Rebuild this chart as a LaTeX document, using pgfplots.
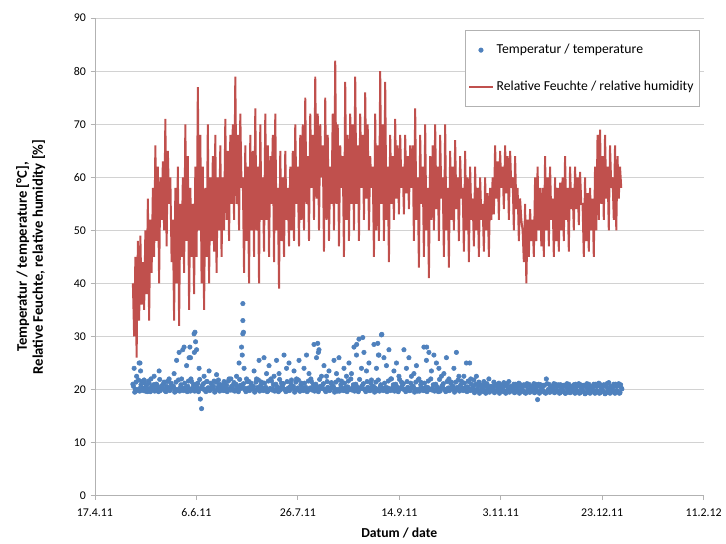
\documentclass[border=0pt]{standalone}
\usepackage{pgfplots}
\pgfplotsset{compat=1.18}
\usepackage{pgfplotstable}
\usepackage{fontspec}
\setmainfont{Carlito}
\definecolor{hum}{RGB}{192,80,77}
\definecolor{tmp}{RGB}{79,129,189}

% relative humidity, one value every 0.6156 days from day 18.7 (day 0 = 17.4.11)
\pgfplotstableread[header=false,row sep=\\]{
40\\30\\45\\26\\48\\33\\49\\36\\
44\\35\\50\\38\\56\\33\\52\\42\\
58\\45\\66\\48\\62\\40\\60\\52\\
63\\50\\71\\47\\65\\55\\60\\44\\
52\\33\\58\\40\\62\\32\\55\\45\\
60\\42\\70\\48\\64\\35\\58\\45\\
55\\38\\62\\45\\77\\50\\68\\40\\
62\\35\\58\\45\\70\\40\\60\\48\\
64\\46\\68\\42\\60\\50\\66\\45\\
60\\50\\71\\52\\65\\48\\68\\55\\
70\\52\\79\\55\\68\\50\\72\\58\\
60\\42\\66\\48\\62\\40\\68\\50\\
65\\45\\73\\50\\62\\40\\70\\52\\
60\\46\\72\\52\\66\\45\\64\\55\\
68\\44\\72\\50\\58\\39\\65\\48\\
60\\45\\65\\52\\58\\47\\62\\50\\
65\\48\\70\\55\\62\\47\\68\\52\\
70\\50\\75\\55\\64\\48\\72\\58\\
68\\52\\79\\56\\72\\50\\70\\60\\
66\\46\\75\\52\\68\\48\\62\\55\\
72\\50\\82\\55\\70\\47\\66\\58\\
64\\45\\78\\52\\68\\48\\72\\55\\
70\\50\\79\\55\\66\\48\\72\\58\\
68\\52\\76\\56\\70\\50\\64\\58\\
62\\45\\72\\50\\66\\48\\80\\55\\
70\\48\\78\\52\\62\\44\\68\\55\\
64\\52\\71\\56\\66\\53\\68\\58\\
62\\53\\68\\57\\64\\54\\66\\58\\
66\\48\\73\\52\\60\\43\\68\\55\\
62\\45\\70\\50\\58\\41\\64\\52\\
66\\50\\70\\54\\62\\48\\68\\56\\
60\\45\\70\\50\\58\\43\\65\\52\\
62\\50\\67\\54\\60\\48\\64\\56\\
58\\46\\65\\50\\60\\44\\62\\52\\
56\\47\\62\\50\\58\\45\\60\\52\\
55\\46\\60\\50\\57\\45\\58\\52\\
60\\53\\66\\56\\63\\52\\65\\58\\
62\\54\\66\\57\\64\\52\\65\\58\\
60\\50\\64\\54\\58\\48\\56\\52\\
50\\44\\55\\40\\52\\45\\54\\48\\
52\\45\\60\\48\\62\\50\\58\\47\\
58\\45\\64\\50\\60\\47\\62\\52\\
56\\45\\60\\48\\58\\46\\59\\50\\
60\\48\\64\\52\\58\\46\\62\\54\\
58\\50\\62\\54\\60\\51\\61\\55\\
55\\45\\60\\48\\57\\46\\58\\50\\
56\\45\\62\\50\\68\\52\\69\\55\\
64\\52\\68\\56\\62\\50\\66\\58\\
60\\52\\66\\50\\64\\56\\62\\58\\
}\humtable

% temperature, same spacing
\pgfplotstableread[header=false,row sep=\\]{
21\\24\\20\\22.5\\19.8\\25\\20.3\\21.5\\
20.2\\21.8\\19.7\\20.8\\20.1\\21.2\\19.6\\20.5\\
20.4\\22.5\\19.9\\21.0\\20.2\\23.5\\19.8\\20.7\\
20.1\\21.4\\19.7\\20.6\\20.3\\22.0\\19.9\\20.8\\
20.5\\23.0\\20.0\\25.5\\19.8\\27.0\\20.4\\22.0\\
20.2\\28.0\\19.9\\24.5\\20.6\\26.0\\19.7\\21.5\\
20.3\\30.5\\20.0\\27.5\\21.2\\24.0\\18.2\\16.4\\
20.1\\22.5\\19.8\\21.5\\20.3\\23.5\\19.9\\21.0\\
20.2\\21.6\\19.7\\22.8\\20.4\\21.0\\19.9\\20.7\\
20.3\\21.5\\19.8\\20.8\\20.1\\22.0\\19.9\\20.6\\
20.2\\21.3\\19.8\\22.5\\20.3\\25.0\\20.8\\28.0\\
30.5\\24.0\\20.2\\22.0\\19.9\\21.5\\20.3\\20.8\\
20.1\\23.5\\19.8\\22.0\\20.4\\25.5\\19.9\\21.4\\
20.3\\26.0\\20.0\\23.0\\19.7\\24.5\\20.2\\21.6\\
20.1\\22.5\\19.8\\25.5\\20.4\\23.0\\19.9\\21.2\\
20.3\\26.5\\20.0\\24.0\\19.8\\25.0\\20.5\\21.8\\
20.2\\23.5\\19.9\\22.0\\20.3\\25.5\\19.7\\21.2\\
20.4\\24.0\\20.0\\26.5\\19.8\\23.0\\20.3\\21.5\\
20.1\\28.5\\20.3\\26.0\\19.9\\27.5\\20.6\\22.5\\
20.2\\24.5\\19.8\\22.5\\20.4\\23.5\\19.9\\21.3\\
20.3\\25.5\\20.0\\23.0\\19.7\\26.0\\20.2\\21.6\\
20.1\\24.0\\19.8\\22.5\\20.5\\25.0\\20.0\\23.0\\
20.4\\28.0\\20.1\\26.5\\19.8\\29.5\\20.3\\24.0\\
20.2\\27.0\\19.9\\23.5\\20.4\\25.0\\19.8\\21.8\\
20.1\\28.5\\20.3\\24.0\\19.8\\26.5\\20.5\\30.3\\
20.2\\26.0\\19.9\\24.5\\20.3\\27.5\\19.8\\22.0\\
20.4\\23.5\\20.0\\25.0\\19.7\\22.5\\20.2\\21.4\\
20.1\\27.5\\19.9\\24.0\\20.4\\26.0\\19.8\\22.5\\
20.3\\23.0\\20.0\\24.5\\19.7\\22.0\\20.2\\21.3\\
20.1\\28.0\\19.8\\25.5\\20.4\\27.0\\20.0\\23.5\\
20.3\\26.5\\19.9\\25.0\\20.2\\24.0\\19.7\\22.5\\
20.4\\23.0\\20.0\\26.0\\19.8\\22.0\\20.3\\21.4\\
20.1\\24.0\\19.8\\27.0\\20.4\\22.5\\19.9\\21.6\\
20.2\\22.5\\19.9\\25.0\\20.5\\21.5\\19.8\\21.0\\
20.3\\21.8\\19.9\\22.5\\20.1\\21.4\\19.7\\20.8\\
20.2\\21.5\\19.8\\20.9\\20.4\\22.0\\19.9\\20.6\\
20.1\\21.4\\19.7\\20.8\\20.3\\21.2\\19.8\\20.5\\
20.2\\21.3\\19.6\\20.7\\20.0\\21.5\\19.7\\20.4\\
20.0\\21.0\\19.5\\20.5\\19.9\\21.2\\19.6\\20.3\\
19.9\\20.9\\19.4\\20.6\\19.8\\21.0\\19.5\\20.2\\
20.0\\21.1\\19.5\\20.4\\18.1\\21.0\\19.6\\20.3\\
19.9\\20.8\\19.4\\22.0\\19.7\\21.0\\19.5\\20.2\\
20.0\\21.1\\19.5\\20.5\\19.8\\20.9\\19.4\\20.3\\
19.8\\20.8\\19.3\\20.4\\19.7\\21.0\\19.4\\20.1\\
19.9\\20.9\\19.3\\20.5\\19.6\\21.1\\19.4\\20.2\\
19.8\\20.8\\19.2\\20.4\\19.7\\21.0\\19.3\\20.1\\
19.9\\21.0\\19.3\\20.6\\19.6\\21.2\\19.4\\20.2\\
19.8\\20.9\\19.2\\20.5\\19.7\\21.3\\19.3\\20.1\\
19.9\\21.0\\19.3\\20.6\\19.6\\21.1\\19.4\\20.3\\
}\tmptable

% temperature, readings in between (offset by half a step)
\pgfplotstableread[header=false,row sep=\\]{
20.6\\19.5\\21.4\\20.0\\21.8\\19.7\\20.9\\20.3\\
19.8\\21.2\\20.4\\19.6\\21.6\\20.1\\22.0\\19.9\\
20.9\\19.7\\21.0\\20.5\\19.6\\21.9\\20.2\\20.7\\
21.1\\20.0\\19.6\\21.5\\20.3\\19.8\\21.2\\20.6\\
20.6\\19.5\\21.4\\20.0\\21.8\\19.7\\20.9\\20.3\\
19.8\\21.2\\20.4\\19.6\\21.6\\20.1\\22.0\\19.9\\
20.9\\19.7\\21.0\\20.5\\19.6\\21.9\\20.2\\20.7\\
21.1\\20.0\\19.6\\21.5\\20.3\\19.8\\21.2\\20.6\\
20.6\\19.5\\21.4\\20.0\\21.8\\19.7\\20.9\\20.3\\
19.8\\21.2\\20.4\\19.6\\21.6\\20.1\\22.0\\19.9\\
20.9\\19.7\\21.0\\20.5\\19.6\\21.9\\20.2\\20.7\\
21.1\\20.0\\19.6\\21.5\\20.3\\19.8\\21.2\\20.6\\
20.6\\19.5\\21.4\\20.0\\21.8\\19.7\\20.9\\20.3\\
19.8\\21.2\\20.4\\19.6\\21.6\\20.1\\22.0\\19.9\\
20.9\\19.7\\21.0\\20.5\\19.6\\21.9\\20.2\\20.7\\
21.1\\20.0\\19.6\\21.5\\20.3\\19.8\\21.2\\20.6\\
20.6\\19.5\\21.4\\20.0\\21.8\\19.7\\20.9\\20.3\\
19.8\\21.2\\20.4\\19.6\\21.6\\20.1\\22.0\\19.9\\
20.9\\19.7\\21.0\\20.5\\19.6\\21.9\\20.2\\20.7\\
21.1\\20.0\\19.6\\21.5\\20.3\\19.8\\21.2\\20.6\\
20.6\\19.5\\21.4\\20.0\\21.8\\19.7\\20.9\\20.3\\
19.8\\21.2\\20.4\\19.6\\21.6\\20.1\\22.0\\19.9\\
20.9\\19.7\\21.0\\20.5\\19.6\\21.9\\20.2\\20.7\\
21.1\\20.0\\19.6\\21.5\\20.3\\19.8\\21.2\\20.6\\
20.6\\19.5\\21.4\\20.0\\21.8\\19.7\\20.9\\20.3\\
19.8\\21.2\\20.4\\19.6\\21.6\\20.1\\22.0\\19.9\\
20.9\\19.7\\21.0\\20.5\\19.6\\21.9\\20.2\\20.7\\
21.1\\20.0\\19.6\\21.5\\20.3\\19.8\\21.2\\20.6\\
20.6\\19.5\\21.4\\20.0\\21.8\\19.7\\20.9\\20.3\\
19.8\\21.2\\20.4\\19.6\\21.6\\20.1\\22.0\\19.9\\
20.9\\19.7\\21.0\\20.5\\19.6\\21.9\\20.2\\20.7\\
21.1\\20.0\\19.6\\21.5\\20.3\\19.8\\21.2\\20.6\\
20.6\\19.5\\21.4\\20.0\\21.8\\19.7\\20.9\\20.3\\
19.8\\21.2\\20.4\\19.6\\21.6\\20.1\\22.0\\19.9\\
20.5\\19.4\\21.0\\19.8\\20.7\\19.3\\20.9\\20.1\\
19.6\\20.8\\19.3\\21.1\\20.0\\19.5\\20.6\\19.8\\
20.5\\19.4\\21.0\\19.8\\20.7\\19.3\\20.9\\20.1\\
19.6\\20.8\\19.3\\21.1\\20.0\\19.5\\20.6\\19.8\\
20.5\\19.4\\21.0\\19.8\\20.7\\19.3\\20.9\\20.1\\
19.6\\20.8\\19.3\\21.1\\20.0\\19.5\\20.6\\19.8\\
20.5\\19.4\\21.0\\19.8\\20.7\\19.3\\20.9\\20.1\\
19.6\\20.8\\19.3\\21.1\\20.0\\19.5\\20.6\\19.8\\
20.5\\19.4\\21.0\\19.8\\20.7\\19.3\\20.9\\20.1\\
19.6\\20.8\\19.3\\21.1\\20.0\\19.5\\20.6\\19.8\\
20.5\\19.4\\21.0\\19.8\\20.7\\19.3\\20.9\\20.1\\
19.6\\20.8\\19.3\\21.1\\20.0\\19.5\\20.6\\19.8\\
20.5\\19.4\\21.0\\19.8\\20.7\\19.3\\20.9\\20.1\\
19.6\\20.8\\19.3\\21.1\\20.0\\19.5\\20.6\\19.8\\
20.5\\19.4\\21.0\\19.8\\20.7\\19.3\\20.9\\20.1\\
}\tmptablebis

\begin{document}
\begin{tikzpicture}
\useasboundingbox (-68pt,-34pt) rectangle (452pt,355pt);
\begin{axis}[
  at={(0,0)}, anchor=south west,
  scale only axis, width=436pt, height=342pt,
  xmin=0, xmax=300, ymin=0, ymax=90,
  xtick={0,50,...,300},
  xticklabels={17.4.11,6.6.11,26.7.11,14.9.11,3.11.11,23.12.11,11.2.12},
  ytick={0,10,...,90},
  ymajorgrids, grid style={gray!35, line width=0.6pt},
  axis x line=bottom, axis y line=left,
  axis line style={-, gray!60, line width=0.6pt},
  tick style={gray!60, line width=0.6pt}, tick align=outside, major tick length=3pt,
  tick label style={font=\fontsize{8.5}{10}\selectfont},
  xticklabel style={yshift=-3pt},
  /pgf/number format/assume math mode=true,
  xlabel={Datum / date},
  xlabel style={font=\bfseries\fontsize{9.8}{11}\selectfont, at={(axis description cs:0.5,0)}, anchor=center, yshift=-26.5pt},
  ylabel={Temperatur / temperature [°C],\\ Relative Feuchte, relative humidity [\%]},
  ylabel style={font=\bfseries\fontsize{10.5}{11.5}\selectfont, align=center, at={(axis description cs:-0.1055,0.5)}, anchor=center},
  legend style={at={(rel axis cs:0.993,0.975)}, anchor=north east, draw=gray!60, fill=white,
    font=\fontsize{9.8}{11}\selectfont, row sep=14pt, inner xsep=2pt, inner ysep=8pt},
  legend cell align=left,
]
\addplot[color=tmp, only marks, mark=*, mark size=1.6pt, mark options={draw=none, fill=tmp}]
  table[x expr=18.7+\coordindex*0.6156, y index=0] {\tmptable};
\addlegendentry{Temperatur / temperature}
\addplot[color=hum, line width=1.4pt]
  table[x expr=18.7+\coordindex*0.6156, y index=0] {\humtable};
\addlegendentry{Relative Feuchte / relative humidity}
\addplot[color=tmp, only marks, mark=*, mark size=1.6pt, mark options={draw=none, fill=tmp}, forget plot]
  table[x expr=19.0+\coordindex*0.6156, y index=0] {\tmptablebis};
\addplot[color=tmp, only marks, mark=*, mark size=1.6pt, mark options={draw=none, fill=tmp}, forget plot]
  coordinates {(72.9,36.2)(72.9,33.0)(73.2,30.8)(72.6,26.5)(49.3,30.8)(49.6,29.0)(49.0,27.0)
  (46.8,28.0)(47.1,26.0)(43.3,27.5)(132,29.8)(129,28.5)(139.4,28.7)(139.7,26.5)(141.4,30.4)
  (163.5,28.0)(109.8,28.7)(110.1,27.0)(184.7,25.0)(22.2,25.0)(22.5,23.5)};
\end{axis}
\end{tikzpicture}
\end{document}
